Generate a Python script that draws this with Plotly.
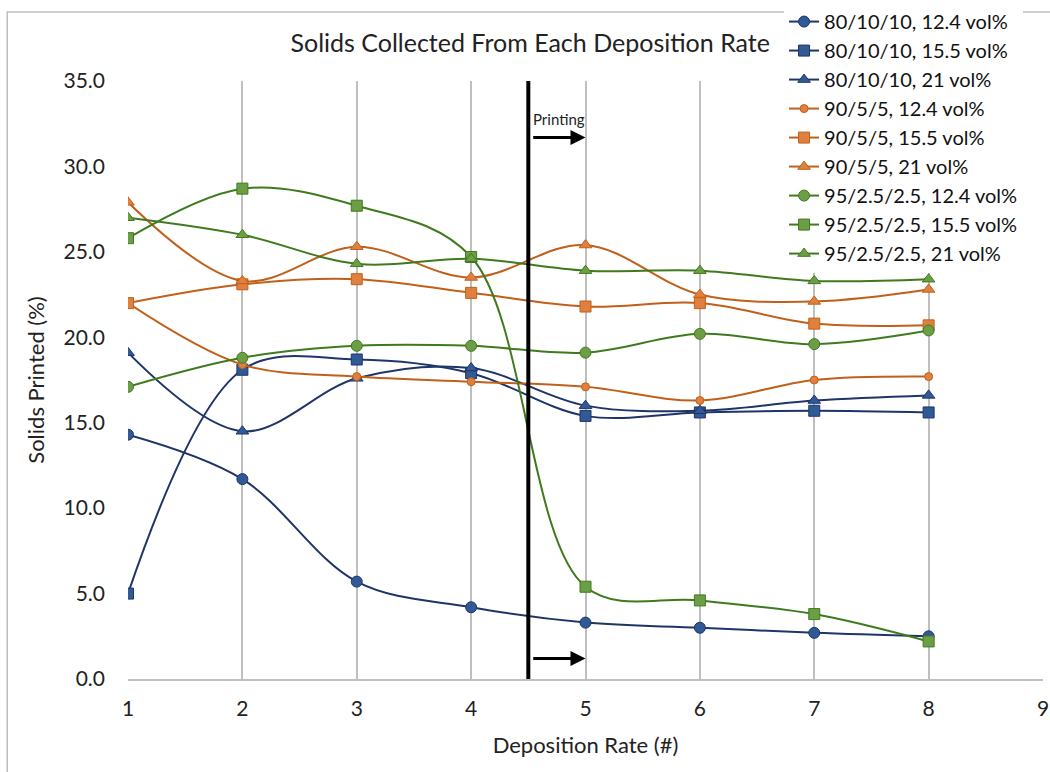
import plotly.graph_objects as go

# Deposition rate index
rates = [1, 2, 3, 4, 5, 6, 7, 8]

# Solids printed (%) per powder blend and solids loading
s80_124 = [14.3, 11.7, 5.7, 4.2, 3.3, 3.0, 2.7, 2.5]
s80_155 = [5.0, 18.1, 18.7, 17.9, 15.4, 15.6, 15.7, 15.6]
s80_21 = [19.1, 14.5, 17.6, 18.2, 16.0, 15.7, 16.3, 16.6]
s90_124 = [22.0, 18.4, 17.7, 17.4, 17.1, 16.3, 17.5, 17.7]
s90_155 = [22.0, 23.1, 23.4, 22.6, 21.8, 22.0, 20.8, 20.7]
s90_21 = [27.9, 23.3, 25.3, 23.5, 25.4, 22.5, 22.1, 22.8]
s95_124 = [17.1, 18.8, 19.5, 19.5, 19.1, 20.2, 19.6, 20.4]
s95_155 = [25.8, 28.7, 27.7, 24.7, 5.4, 4.6, 3.8, 2.2]
s95_21 = [27.0, 26.0, 24.3, 24.6, 23.9, 23.9, 23.3, 23.4]

names = [
    "80/10/10, 12.4 vol%", "80/10/10, 15.5 vol%", "80/10/10, 21 vol%",
    "90/5/5, 12.4 vol%", "90/5/5, 15.5 vol%", "90/5/5, 21 vol%",
    "95/2.5/2.5, 12.4 vol%", "95/2.5/2.5, 15.5 vol%", "95/2.5/2.5, 21 vol%",
]
series = [s80_124, s80_155, s80_21, s90_124, s90_155, s90_21, s95_124, s95_155, s95_21]

palette = {
    "blue": ("#1F3468", "#2F5A96"),
    "orange": ("#C0601A", "#E0803F"),
    "green": ("#3F7A1E", "#6B9E45"),
}
families = ["blue"] * 3 + ["orange"] * 3 + ["green"] * 3
symbols = ["circle", "square", "triangle-up"] * 3
sizes = [11, 11, 11, 8, 11, 11, 11, 11, 11]

fig = go.Figure()
for i, (name, ys) in enumerate(zip(names, series)):
    line_c, fill_c = palette[families[i]]
    fig.add_trace(go.Scatter(
        x=rates, y=ys, name=name, mode="lines+markers",
        line=dict(color=line_c, width=2, shape="spline", smoothing=1.0),
        marker=dict(symbol=symbols[i], size=sizes[i], color=fill_c,
                    line=dict(color=line_c, width=1)),
    ))

# Printing boundary and direction arrows
fig.add_shape(type="line", x0=4.5, x1=4.5, y0=0, y1=35, xref="x", yref="y",
              line=dict(color="black", width=4))
for yv in [31.7, 1.2]:
    fig.add_annotation(x=5.0, y=yv, ax=4.53, ay=yv, xref="x", yref="y",
                       axref="x", ayref="y", text="", showarrow=True,
                       arrowhead=2, arrowsize=1, arrowwidth=3, arrowcolor="black")
fig.add_annotation(x=4.52, y=32.8, xref="x", yref="y", text="Printing",
                   showarrow=False, xanchor="left", yanchor="middle",
                   font=dict(size=15, color="#222", family="Lato"))

# Outer chart frame
fig.add_shape(type="rect", xref="paper", yref="paper",
              x0=-0.132, x1=1.2, y0=-0.2, y1=1.1155,
              line=dict(color="#BDBDBD", width=1.5), layer="below")

fig.update_layout(
    width=1050, height=772,
    margin=dict(l=128, r=7, t=81, b=93, autoexpand=False),
    paper_bgcolor="white", plot_bgcolor="white",
    font=dict(family="Lato", color="#222"),
    title=dict(text="Solids Collected From Each Deposition Rate",
               x=0.505, xanchor="center", y=0.944, yanchor="middle",
               font=dict(size=25, family="Lato", color="#222")),
    xaxis=dict(range=[1, 9], tickmode="array", tickvals=list(range(1, 10)),
               showgrid=True, gridcolor="#BFBFBF", gridwidth=1.5,
               showline=True, linecolor="#BFBFBF", linewidth=1.5,
               zeroline=False, ticks="", ticklabelstandoff=10,
               tickfont=dict(size=21),
               title=dict(text="Deposition Rate (#)", font=dict(size=22), standoff=19)),
    yaxis=dict(range=[0, 35], tickmode="array", tickvals=[0, 5, 10, 15, 20, 25, 30, 35],
               ticktext=[f"{v:.1f}" for v in [0, 5, 10, 15, 20, 25, 30, 35]],
               showgrid=False, showline=False, zeroline=False, ticks="",
               ticklabelstandoff=22, tickfont=dict(size=21),
               title=dict(text="Solids Printed (%)", font=dict(size=22), standoff=12)),
    legend=dict(x=0.717, y=1.132, xanchor="left", yanchor="top",
                bgcolor="white", font=dict(size=20, color="#111"),
                tracegroupgap=0, itemwidth=30),
    showlegend=True,
)

fig.write_html("out.html")
